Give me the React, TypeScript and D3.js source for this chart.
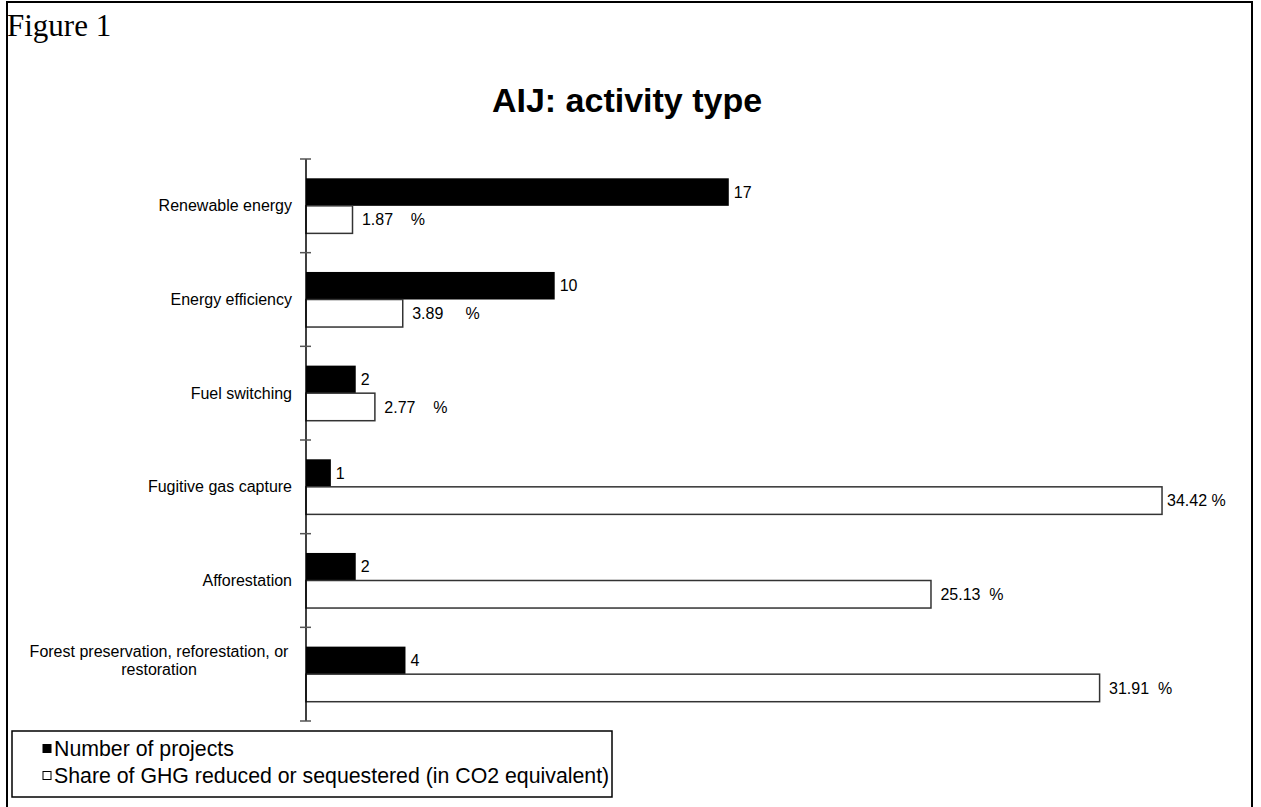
import React from "react";
import * as d3 from "d3";

const categories: string[][] = [
  ["Renewable energy"],
  ["Energy efficiency"],
  ["Fuel switching"],
  ["Fugitive gas capture"],
  ["Afforestation"],
  ["Forest preservation, reforestation, or", "restoration"],
];
const projects: number[] = [17, 10, 2, 1, 2, 4];
const shares: number[] = [1.87, 3.89, 2.77, 34.42, 25.13, 31.91];
const projectLabels: string[] = ["17", "10", "2", "1", "2", "4"];
const shareLabels: string[] = [
  " 1.87    %",
  " 3.89     %",
  " 2.77    %",
  "34.42 %",
  " 25.13  %",
  " 31.91  %",
];
const legendLabels: string[] = [
  "Number of projects",
  "Share of GHG reduced or sequestered (in CO2 equivalent)",
];
const titleText = "AIJ: activity type";
const figureText = "Figure 1";

const W = 1261;
const H = 807;
const FONT = "'Liberation Sans', Arial, sans-serif";

export default function App() {
  const axisX = 306;
  const x = d3.scaleLinear().domain([0, 35]).range([axisX, axisX + 35 * 24.87]);
  const y = d3
    .scaleBand<number>()
    .domain(d3.range(categories.length))
    .range([159, 721])
    .paddingInner(0)
    .paddingOuter(0);
  const bw = y.bandwidth();
  const barH = bw * 0.294;
  const ticks = d3.range(categories.length + 1).map((i) => 159 + i * bw);

  return (
    <svg
      width={W}
      height={H}
      style={{ position: "absolute", left: 0, top: 0, background: "#fff" }}
      fontFamily={FONT}
    >
      <rect x={7} y={2} width={1245} height={820} fill="#fff" stroke="#000" strokeWidth={2} />
      <text x={7} y={36} fontFamily="'Liberation Serif', 'Times New Roman', serif" fontSize={31} fill="#000">
        {figureText}
      </text>
      <text x={627} y={112} textAnchor="middle" fontWeight="bold" fontSize={34} fill="#000">
        {titleText}
      </text>

      {/* bars */}
      {categories.map((c, i) => {
        const top = (y(i) as number) + (bw - 2 * barH) / 2;
        return (
          <g key={i}>
            <rect x={x(0)} y={top} width={x(projects[i]) - x(0)} height={barH} fill="#000" />
            <rect
              x={x(0)}
              y={top + barH}
              width={x(shares[i]) - x(0)}
              height={barH}
              fill="#fff"
              stroke="#333"
              strokeWidth={1.5}
            />
            <text x={x(projects[i]) + 5} y={top + barH / 2} dy="0.35em" fontSize={16} fill="#000">
              {projectLabels[i]}
            </text>
            <text
              x={x(shares[i]) + 5}
              y={top + barH * 1.5}
              dy="0.35em"
              fontSize={16}
              fill="#000"
              style={{ whiteSpace: "pre" }}
            >
              {shareLabels[i]}
            </text>
          </g>
        );
      })}

      {/* axis */}
      <line x1={axisX} x2={axisX} y1={159} y2={721} stroke="#000" strokeWidth={1.5} />
      {ticks.map((t, i) => (
        <line key={i} x1={axisX - 6} x2={axisX + 5} y1={t} y2={t} stroke="#555" strokeWidth={1.5} />
      ))}

      {/* category labels */}
      {categories.map((lines, i) => {
        const cy = (y(i) as number) + bw / 2;
        if (lines.length === 1) {
          return (
            <text key={i} x={292} y={cy} dy="0.35em" textAnchor="end" fontSize={16} fill="#000">
              {lines[0]}
            </text>
          );
        }
        return (
          <text key={i} x={159} y={cy - 23} textAnchor="middle" fontSize={16} fill="#000">
            {lines.map((l, j) => (
              <tspan key={j} x={159} dy={j === 0 ? "0.35em" : 18.5}>
                {l}
              </tspan>
            ))}
          </text>
        );
      })}

      {/* legend */}
      <rect x={12} y={731} width={600} height={66} fill="#fff" stroke="#000" strokeWidth={1.5} />
      {legendLabels.map((l, i) => {
        const ly = 749 + i * 27;
        return (
          <g key={i}>
            <rect
              x={43}
              y={ly - 4.5}
              width={8}
              height={8}
              fill={i === 0 ? "#000" : "#fff"}
              stroke="#000"
              strokeWidth={1}
            />
            <text x={54} y={ly} dy="0.35em" fontSize={21.3} fill="#000">
              {l}
            </text>
          </g>
        );
      })}
    </svg>
  );
}
